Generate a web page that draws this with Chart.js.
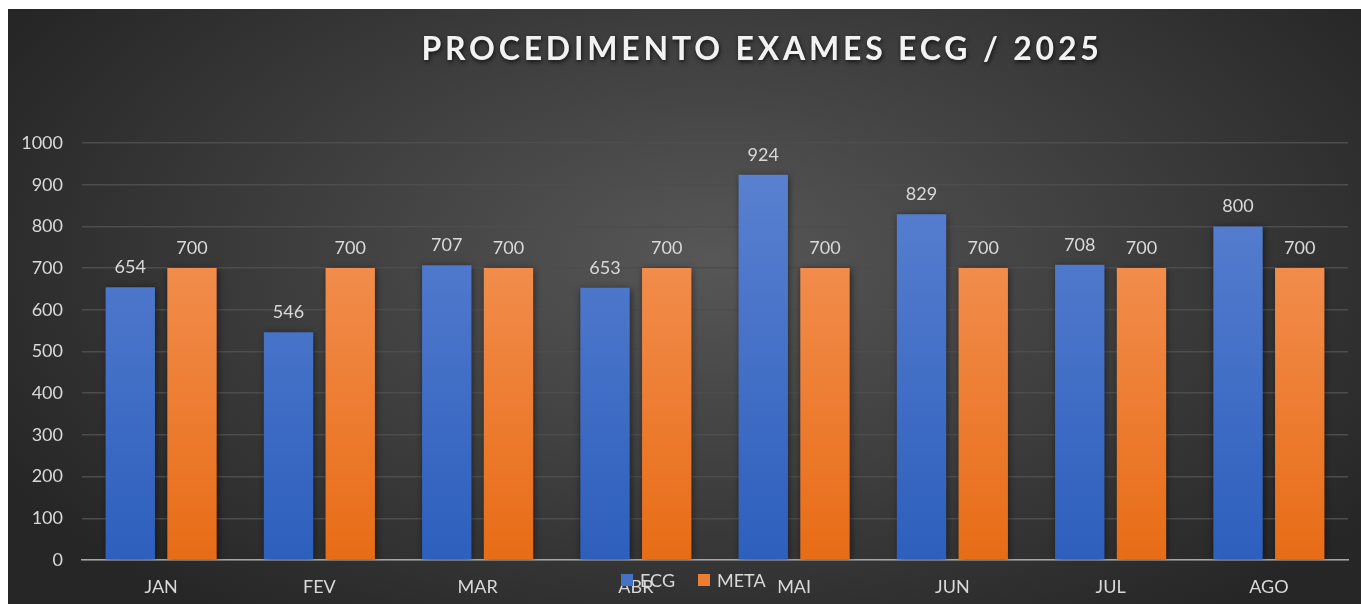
<!DOCTYPE html>
<html>
<head>
<meta charset="utf-8">
<script src="https://cdn.jsdelivr.net/npm/chart.js@4"></script>
<style>
  html, body { margin: 0; padding: 0; background: #fff; }
  #box {
    position: absolute; left: 8px; top: 9px; width: 1353px; height: 595px;
    background: radial-gradient(ellipse 60% 75% at 52% 42%, #575757 0%, #3c3c3c 55%, #262626 100%);
  }
</style>
</head>
<body>
<div id="box"><canvas id="grafico" width="1353" height="595"></canvas></div>
<script>
const titulo = "PROCEDIMENTO EXAMES ECG / 2025";
const meses = ["JAN", "FEV", "MAR", "ABR", "MAI", "JUN", "JUL", "AGO"];
const ecg = [654, 546, 707, 653, 924, 829, 708, 800];
const meta = [700, 700, 700, 700, 700, 700, 700, 700];
const ticksY = [0, 100, 200, 300, 400, 500, 600, 700, 800, 900, 1000];

const corTexto = "#d9d9d9";
const fonte = "Lato, 'Open Sans', sans-serif";

// gradiente vertical da barra
function gradiente(c, topo, base) {
    const area = c.chart.chartArea;
    if (!area) return base;
    const g = c.chart.ctx.createLinearGradient(0, area.top, 0, area.bottom);
    g.addColorStop(0, topo);
    g.addColorStop(1, base);
    return g;
}

// titulo, rotulos de dados e legenda desenhados a mao
const extras = {
    id: "extras",
    beforeDatasetsDraw(chart) {
        const ctx = chart.ctx;
        ctx.save();
        ctx.shadowColor = "rgba(0,0,0,0.55)";
        ctx.shadowBlur = 7;
        ctx.shadowOffsetX = 1;
        ctx.shadowOffsetY = 1;
    },
    afterDatasetsDraw(chart) {
        const ctx = chart.ctx;
        ctx.restore();
        ctx.save();
        ctx.font = "18px " + fonte;
        ctx.fillStyle = corTexto;
        ctx.textAlign = "center";
        ctx.textBaseline = "bottom";
        chart.data.datasets.forEach((ds, i) => {
            chart.getDatasetMeta(i).data.forEach((el, j) => {
                ctx.fillText(ds.data[j], el.x, el.y - 11);
            });
        });

        // titulo
        ctx.font = "bold 32px " + fonte;
        ctx.letterSpacing = "3.8px";
        ctx.textAlign = "center";
        ctx.textBaseline = "middle";
        ctx.shadowColor = "rgba(0,0,0,0.7)";
        ctx.shadowBlur = 4;
        ctx.shadowOffsetX = 1;
        ctx.shadowOffsetY = 2;
        ctx.fillStyle = "#f2f2f2";
        ctx.fillText(titulo, 754, 41);
        ctx.shadowColor = "transparent";
        ctx.letterSpacing = "0px";

        // legenda sobre os rotulos do eixo x
        ctx.font = "18px " + fonte;
        ctx.textAlign = "left";
        let x = 613;
        const y = 571;
        const cores = ["#4472c4", "#ed7d31"];
        chart.data.datasets.forEach((ds, i) => {
            ctx.fillStyle = cores[i];
            ctx.fillRect(x, y - 6, 12, 12);
            ctx.fillStyle = corTexto;
            ctx.fillText(ds.label, x + 19, y + 1);
            x += 77;
        });
        ctx.restore();
    }
};

function inicializarGrafico() {
    const ctx = document.getElementById("grafico").getContext("2d");
    new Chart(ctx, {
        type: "bar",
        data: {
            labels: meses,
            datasets: [{
                label: "ECG",
                data: ecg,
                backgroundColor: (c) => gradiente(c, "#5d83d2", "#2d5fbd"),
                borderWidth: 0,
                categoryPercentage: 0.78,
                barPercentage: 0.8,
            }, {
                label: "META",
                data: meta,
                backgroundColor: (c) => gradiente(c, "#f59a62", "#e86c16"),
                borderWidth: 0,
                categoryPercentage: 0.78,
                barPercentage: 0.8,
            }],
        },
        options: {
            responsive: false,
            animation: false,
            layout: { padding: { top: 134, right: 13, left: 0, bottom: 0 } },
            plugins: {
                legend: { display: false },
                title: { display: false },
                tooltip: { enabled: false },
            },
            scales: {
                x: {
                    afterFit(s) { s.height = 44; },
                    grid: { display: false, drawTicks: false },
                    border: { display: true, color: "#a6a6a6", width: 1.5 },
                    ticks: {
                        color: corTexto,
                        padding: 16,
                        font: { family: fonte, size: 18 },
                    },
                },
                y: {
                    min: 0,
                    max: 1000,
                    afterFit(s) { s.width = 74; },
                    afterBuildTicks(s) { s.ticks = ticksY.map(v => ({ value: v })); },
                    grid: { color: "#4d4d4d", lineWidth: 1.5, drawTicks: false },
                    border: { display: false },
                    ticks: {
                        color: corTexto,
                        padding: 19,
                        font: { family: fonte, size: 18 },
                        callback: (v) => String(v),
                    },
                },
            },
        },
        plugins: [extras],
    });
}

window.onload = inicializarGrafico;
</script>
</body>
</html>
